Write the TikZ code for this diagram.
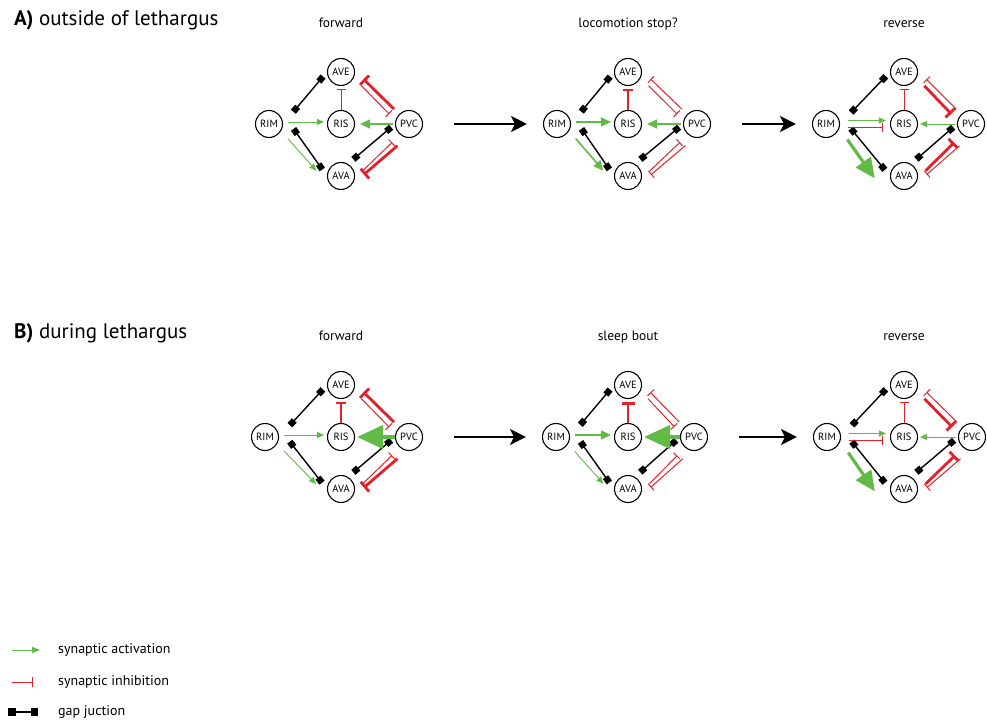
\documentclass[tikz,border=0pt]{standalone}
\usepackage{fontspec}
\setmainfont{PT Sans}
\usetikzlibrary{arrows.meta,positioning}
\definecolor{actgreen}{RGB}{98,186,70}
\definecolor{inhred}{RGB}{228,32,40}
\begin{document}
\begin{tikzpicture}[x=1pt, y=1pt, node distance=52pt]
        \tikzstyle{neuron}=[circle, draw=black, line width=1.1pt, minimum size=27pt, inner sep=0pt, font=\fontsize{10.5}{11}\selectfont]
        \tikzstyle{title}=[font=\fontsize{13.5}{15}\selectfont, text height=9.5pt, text depth=2.5pt]
        \tikzstyle{head}=[anchor=base west, inner sep=0pt, font=\fontsize{21}{24}\selectfont]
        \tikzstyle{legend}=[anchor=west, inner sep=0pt, font=\fontsize{14}{16}\selectfont]
        \tikzstyle{gap}=[black, line width=1.4pt, {Square[length=6.5pt,width=6.5pt]}-{Square[length=6.5pt,width=6.5pt]}]
        \tikzstyle{actthin}=[actgreen, line width=0.9pt, -{Triangle[length=7pt,width=6pt]}]
        \tikzstyle{actmid}=[actgreen, line width=1.6pt, -{Triangle[length=10pt,width=9pt]}]
        \tikzstyle{actthick}=[actgreen, line width=3.2pt, -{Triangle[length=20pt,width=18pt]}]
        \tikzstyle{acthuge}=[actgreen, line width=4pt, -{Triangle[length=26pt,width=23pt]}]
        \tikzstyle{inhthin}=[inhred, line width=1pt, -{Bar[width=9pt]}]
        \tikzstyle{inhmid}=[inhred, line width=1.6pt, -{Bar[width=10pt]}]
        \tikzstyle{inhthick}=[inhred, line width=2.8pt, -{Bar[width=13pt]}]
        \tikzstyle{move}=[black, line width=1.8pt, -{Stealth[length=16pt,width=16pt,inset=4pt]}]

        \useasboundingbox (0,0) rectangle (987,720);

        \node[head] (heada) at (14,694) {\textbf{A)} outside of lethargus};
        \node[head] (headb) at (14,381) {\textbf{B)} during lethargus};

        % A) forward
        \node[neuron] (ris1) at (341,596) {RIS};
        \node[neuron, above of=ris1] (ave1) {AVE};
        \node[neuron, below of=ris1] (ava1) {AVA};
        \node[neuron, left of=ris1, node distance=72pt] (rim1) {RIM};
        \node[neuron, right of=ris1, node distance=68pt] (pvc1) {PVC};
        \node[title, above of=ave1, node distance=48pt] (title1) {forward};

        \draw[gap, shorten <=16pt, shorten >=6pt] (rim1.east) -- (ave1.west);
        \draw[gap, shorten <=6pt, shorten >=8pt] ([xshift=7pt]rim1.east) -- (ava1.west);
        \draw[gap, shorten <=5pt, shorten >=7pt] (pvc1.west) -- (ava1.60);
        \draw[actthin, shorten <=5pt, shorten >=3pt] ([yshift=2pt]rim1.east) -- ([yshift=2pt]ris1.west);
        \draw[actthin, shorten <=10pt, shorten >=7pt] (rim1.-30) -- ([xshift=-6pt]ava1.west);
        \draw[actmid, shorten <=2pt, shorten >=5pt] (pvc1.west) -- (ris1.east);
        \draw[inhthin, shorten >=3pt] (ris1.north) -- (ave1.south);
        \draw[inhthick, shorten <=7pt, shorten >=12pt] (pvc1.135) -- (ave1.5);
        \draw[inhthin, shorten <=11pt, shorten >=9pt] (ave1.-25) -- (pvc1.165);
        \draw[inhthick, shorten <=12pt, shorten >=16pt] (pvc1.260) -- (ava1.-40);
        \draw[inhthin, shorten <=11pt, shorten >=11pt] (ava1.-10) -- (pvc1.230);

        % A) locomotion stop?
        \node[neuron] (ris2) at (628,596) {RIS};
        \node[neuron, above of=ris2] (ave2) {AVE};
        \node[neuron, below of=ris2] (ava2) {AVA};
        \node[neuron, left of=ris2, node distance=71pt] (rim2) {RIM};
        \node[neuron, right of=ris2, node distance=69pt] (pvc2) {PVC};
        \node[title, above of=ave2, node distance=48pt] (title2) {locomotion stop?};

        \draw[gap, shorten <=16pt, shorten >=6pt] (rim2.east) -- (ave2.west);
        \draw[gap, shorten <=6pt, shorten >=8pt] ([xshift=7pt]rim2.east) -- (ava2.west);
        \draw[gap, shorten <=5pt, shorten >=7pt] (pvc2.west) -- (ava2.60);
        \draw[actmid, shorten <=5pt, shorten >=3pt] ([yshift=2pt]rim2.east) -- ([yshift=2pt]ris2.west);
        \draw[actmid, shorten <=10pt, shorten >=7pt] (rim2.-30) -- ([xshift=-6pt]ava2.west);
        \draw[actmid, shorten <=2pt, shorten >=5pt] (pvc2.west) -- (ris2.east);
        \draw[inhmid, shorten >=3pt] (ris2.north) -- (ave2.south);
        \draw[inhthin, shorten <=7pt, shorten >=12pt] (pvc2.135) -- (ave2.5);
        \draw[inhthin, shorten <=11pt, shorten >=9pt] (ave2.-25) -- (pvc2.165);
        \draw[inhthin, shorten <=12pt, shorten >=16pt] (pvc2.260) -- (ava2.-40);
        \draw[inhthin, shorten <=11pt, shorten >=11pt] (ava2.-10) -- (pvc2.230);

        % A) reverse
        \node[neuron] (ris3) at (904,596) {RIS};
        \node[neuron, above of=ris3] (ave3) {AVE};
        \node[neuron, below of=ris3] (ava3) {AVA};
        \node[neuron, left of=ris3, node distance=78pt] (rim3) {RIM};
        \node[neuron, right of=ris3, node distance=67pt] (pvc3) {PVC};
        \node[title, above of=ave3, node distance=48pt] (title3) {reverse};

        \draw[gap, shorten <=16pt, shorten >=6pt] (rim3.east) -- (ave3.west);
        \draw[gap, shorten <=6pt, shorten >=8pt] ([xshift=7pt]rim3.east) -- (ava3.west);
        \draw[gap, shorten <=5pt, shorten >=7pt] (pvc3.west) -- (ava3.60);
        \draw[actthin, shorten <=8pt, shorten >=4pt] ([yshift=3.5pt]rim3.east) -- ([yshift=3.5pt]ris3.west);
        \draw[inhthin, shorten <=8pt, shorten >=7pt] ([yshift=-3.5pt]rim3.east) -- ([yshift=-3.5pt]ris3.west);
        \draw[actthick, shorten <=8pt, shorten >=2pt] ([xshift=6pt]rim3.-40) -- ([xshift=-14pt,yshift=-4pt]ava3.west);
        \draw[actthin, shorten <=2pt, shorten >=2pt] (pvc3.west) -- (ris3.east);
        \draw[inhthin, shorten >=3pt] (ris3.north) -- (ave3.south);
        \draw[inhthin, shorten <=7pt, shorten >=12pt] (pvc3.135) -- (ave3.5);
        \draw[inhthick, shorten <=11pt, shorten >=9pt] (ave3.-25) -- (pvc3.165);
        \draw[inhthin, shorten <=12pt, shorten >=16pt] (pvc3.260) -- (ava3.-40);
        \draw[inhthick, shorten <=11pt, shorten >=11pt] (ava3.-10) -- (pvc3.230);

        % B) forward
        \node[neuron] (ris4) at (341,283) {RIS};
        \node[neuron, above of=ris4] (ave4) {AVE};
        \node[neuron, below of=ris4] (ava4) {AVA};
        \node[neuron, left of=ris4, node distance=76pt] (rim4) {RIM};
        \node[neuron, right of=ris4, node distance=68pt] (pvc4) {PVC};
        \node[title, above of=ave4, node distance=48pt] (title4) {forward};

        \draw[gap, shorten <=16pt, shorten >=6pt] (rim4.east) -- (ave4.west);
        \draw[gap, shorten <=6pt, shorten >=8pt] ([xshift=7pt]rim4.east) -- (ava4.west);
        \draw[gap, shorten <=5pt, shorten >=7pt] (pvc4.west) -- (ava4.60);
        \draw[actthin, shorten <=5pt, shorten >=3pt] ([yshift=2pt]rim4.east) -- ([yshift=2pt]ris4.west);
        \draw[actthin, shorten <=10pt, shorten >=7pt] (rim4.-30) -- ([xshift=-6pt]ava4.west);
        \draw[acthuge, shorten <=0pt, shorten >=2pt] (pvc4.west) -- (ris4.east);
        \draw[inhmid, shorten >=3pt] (ris4.north) -- (ave4.south);
        \draw[inhthick, shorten <=7pt, shorten >=12pt] (pvc4.135) -- (ave4.5);
        \draw[inhthin, shorten <=11pt, shorten >=9pt] (ave4.-25) -- (pvc4.165);
        \draw[inhthick, shorten <=12pt, shorten >=16pt] (pvc4.260) -- (ava4.-40);
        \draw[inhthin, shorten <=11pt, shorten >=11pt] (ava4.-10) -- (pvc4.230);

        % B) sleep bout
        \node[neuron] (ris5) at (628,283) {RIS};
        \node[neuron, above of=ris5] (ave5) {AVE};
        \node[neuron, below of=ris5] (ava5) {AVA};
        \node[neuron, left of=ris5, node distance=72pt] (rim5) {RIM};
        \node[neuron, right of=ris5, node distance=66pt] (pvc5) {PVC};
        \node[title, above of=ave5, node distance=48pt] (title5) {sleep bout};

        \draw[gap, shorten <=16pt, shorten >=6pt] (rim5.east) -- (ave5.west);
        \draw[gap, shorten <=6pt, shorten >=8pt] ([xshift=7pt]rim5.east) -- (ava5.west);
        \draw[gap, shorten <=5pt, shorten >=7pt] (pvc5.west) -- (ava5.60);
        \draw[actmid, shorten <=5pt, shorten >=3pt] ([yshift=2pt]rim5.east) -- ([yshift=2pt]ris5.west);
        \draw[actthin, shorten <=10pt, shorten >=7pt] (rim5.-30) -- ([xshift=-6pt]ava5.west);
        \draw[acthuge, shorten <=0pt, shorten >=2pt] (pvc5.west) -- (ris5.east);
        \draw[inhthick, shorten >=3pt] (ris5.north) -- (ave5.south);
        \draw[inhthin, shorten <=7pt, shorten >=12pt] (pvc5.135) -- (ave5.5);
        \draw[inhthin, shorten <=11pt, shorten >=9pt] (ave5.-25) -- (pvc5.165);
        \draw[inhthin, shorten <=12pt, shorten >=16pt] (pvc5.260) -- (ava5.-40);
        \draw[inhthin, shorten <=11pt, shorten >=11pt] (ava5.-10) -- (pvc5.230);

        % B) reverse
        \node[neuron] (ris6) at (904,283) {RIS};
        \node[neuron, above of=ris6] (ave6) {AVE};
        \node[neuron, below of=ris6] (ava6) {AVA};
        \node[neuron, left of=ris6, node distance=77pt] (rim6) {RIM};
        \node[neuron, right of=ris6, node distance=68pt] (pvc6) {PVC};
        \node[title, above of=ave6, node distance=48pt] (title6) {reverse};

        \draw[gap, shorten <=16pt, shorten >=6pt] (rim6.east) -- (ave6.west);
        \draw[gap, shorten <=6pt, shorten >=8pt] ([xshift=7pt]rim6.east) -- (ava6.west);
        \draw[gap, shorten <=5pt, shorten >=7pt] (pvc6.west) -- (ava6.60);
        \draw[actthin, shorten <=8pt, shorten >=4pt] ([yshift=3.5pt]rim6.east) -- ([yshift=3.5pt]ris6.west);
        \draw[inhthin, shorten <=8pt, shorten >=7pt] ([yshift=-3.5pt]rim6.east) -- ([yshift=-3.5pt]ris6.west);
        \draw[actthick, shorten <=8pt, shorten >=2pt] ([xshift=6pt]rim6.-40) -- ([xshift=-14pt,yshift=-4pt]ava6.west);
        \draw[actthin, shorten <=2pt, shorten >=2pt] (pvc6.west) -- (ris6.east);
        \draw[inhthin, shorten >=3pt] (ris6.north) -- (ave6.south);
        \draw[inhthin, shorten <=7pt, shorten >=12pt] (pvc6.135) -- (ave6.5);
        \draw[inhthick, shorten <=11pt, shorten >=9pt] (ave6.-25) -- (pvc6.165);
        \draw[inhthin, shorten <=12pt, shorten >=16pt] (pvc6.260) -- (ava6.-40);
        \draw[inhthick, shorten <=11pt, shorten >=11pt] (ava6.-10) -- (pvc6.230);

        \draw[move, shorten <=31pt, shorten >=16pt] (pvc1) -- (rim2);
        \draw[move, shorten <=31pt, shorten >=16pt] (pvc2) -- (rim3);
        \draw[move, shorten <=31pt, shorten >=16pt] (pvc4) -- (rim5);
        \draw[move, shorten <=31pt, shorten >=16pt] (pvc5) -- (rim6);

        \node[legend] (legact) at (58,70) {synaptic activation};
        \node[legend] (leginh) at (58,38) {synaptic inhibition};
        \node[legend] (leggap) at (58,8) {gap juction};
        \draw[actthin, line width=1pt, -{Triangle[length=8pt,width=6pt]}] ([xshift=-46pt]legact.west) -- ([xshift=-18pt]legact.west);
        \draw[inhthin, line width=1pt, -{Bar[width=10pt]}] ([xshift=-46pt]leginh.west) -- ([xshift=-25pt]leginh.west);
        \draw[gap, {Square[length=7.5pt,width=7.5pt]}-{Square[length=7.5pt,width=7.5pt]}] ([xshift=-50pt]leggap.west) -- ([xshift=-20pt]leggap.west);
    \end{tikzpicture}
\end{document}
